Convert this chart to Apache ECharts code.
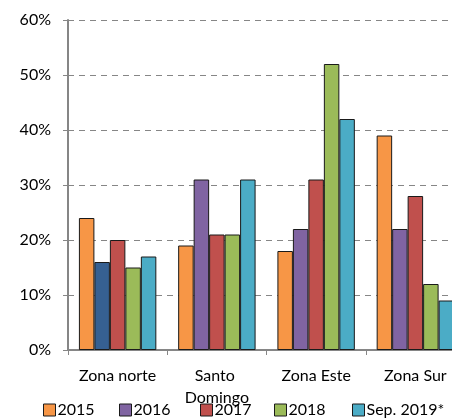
<!DOCTYPE html>
<html>
<head>
<meta charset="utf-8">
<script src="https://cdn.jsdelivr.net/npm/echarts@6/dist/echarts.min.js"></script>
<style>
  html, body { margin: 0; padding: 0; background: #fff; }
  #chart { width: 452px; height: 419px; }
</style>
</head>
<body>
<div id="chart"></div>
<script>
const zonas = ['Zona norte', 'Santo Domingo', 'Zona Este', 'Zona Sur'];
const years = ['2015', '2016', '2017', '2018', 'Sep. 2019*'];
const v2015 = [24, 19, 18, 39];
const v2016 = [16, 31, 22, 22];
const v2017 = [20, 21, 31, 28];
const v2018 = [15, 21, 52, 12];
const v2019 = [17, 31, 42, 9];
const yTicks = [0, 10, 20, 30, 40, 50, 60];

const colors = ['#F79646', '#8064A2', '#C0504D', '#9BBB59', '#4BACC6'];
const legendLeft = [43, 119, 200, 274, 352];
const font = 'Lato';

const chart = echarts.init(document.getElementById('chart'));

const allValues = [v2015, v2016, v2017, v2018, v2019];
const series = years.map((y, i) => {
    let data = allValues[i].map(v => v);
    if (i === 1) {
        // first 2016 bar is drawn in dark blue in the original
        data[0] = { value: data[0], itemStyle: { color: '#366092' } };
    }
    return {
        name: y,
        type: 'bar',
        data: data,
        barGap: '0%',
        barCategoryGap: '22%',
        itemStyle: { color: colors[i], borderColor: '#1a1a1a', borderWidth: 1 }
    };
});

// one legend per item so each sits where the original puts it
const legends = years.map((y, i) => ({
    data: [y],
    left: legendLeft[i],
    top: 402,
    padding: 0,
    icon: 'rect',
    itemWidth: 12,
    itemHeight: 12,
    itemStyle: { borderColor: '#1a1a1a', borderWidth: 1 },
    textStyle: { fontFamily: font, fontSize: 16, color: '#000', padding: [0, 0, 0, -3] }
}));

const option = {
    animation: false,
    color: colors,
    textStyle: { fontFamily: font },
    grid: { left: 68, top: 20, width: 397, height: 330, containLabel: false, outerBoundsMode: 'none' },
    legend: legends,
    xAxis: {
        type: 'category',
        data: zonas,
        axisLine: { lineStyle: { color: '#868686', width: 2 } },
        axisTick: { show: true, length: 5, lineStyle: { color: '#868686' } },
        axisLabel: {
            color: '#000',
            fontFamily: font,
            fontSize: 16,
            margin: 15,
            lineHeight: 22,
            width: 88,
            overflow: 'break',
            interval: 0
        }
    },
    yAxis: {
        type: 'value',
        min: yTicks[0],
        max: yTicks[yTicks.length - 1],
        interval: 10,
        axisLine: { show: true, lineStyle: { color: '#868686', width: 2 } },
        axisTick: { show: true, length: 5, lineStyle: { color: '#868686' } },
        axisLabel: {
            color: '#000',
            fontFamily: font,
            fontSize: 16,
            margin: 17,
            formatter: v => v + '%'
        },
        splitLine: { show: true, lineStyle: { color: '#868686', type: [6, 5], width: 1 } }
    },
    series: series
};

chart.setOption(option);
</script>
</body>
</html>
